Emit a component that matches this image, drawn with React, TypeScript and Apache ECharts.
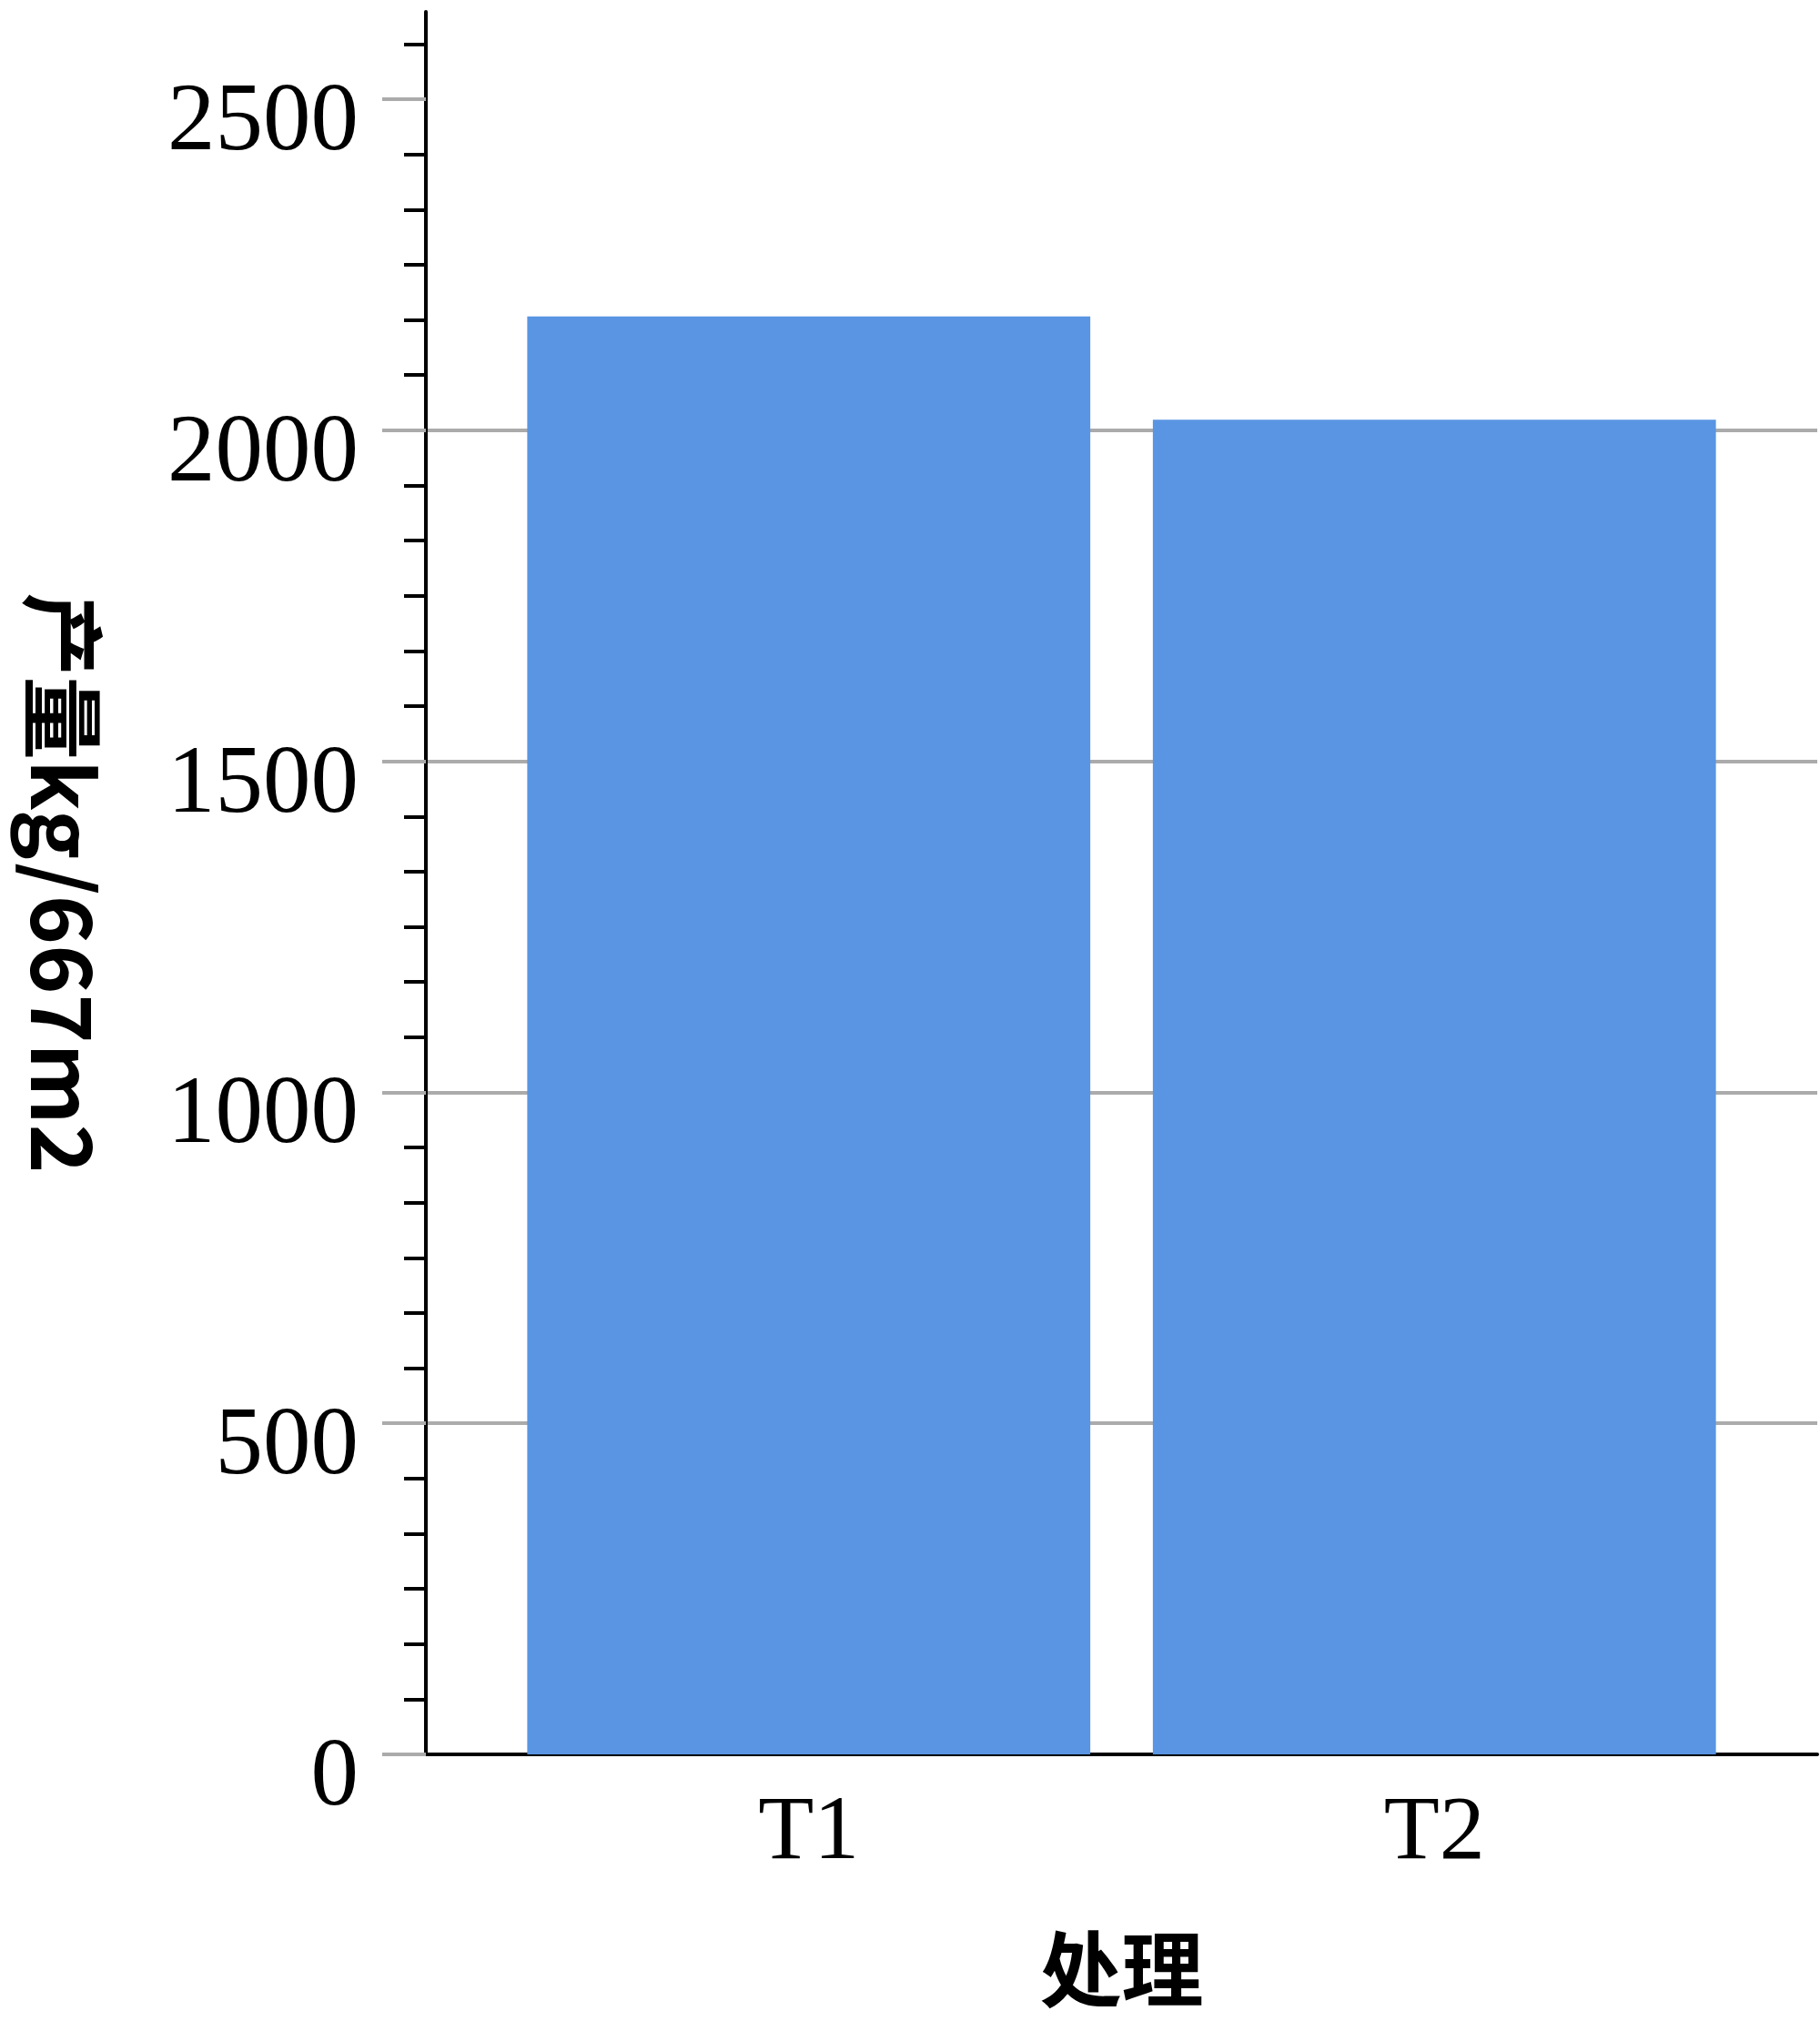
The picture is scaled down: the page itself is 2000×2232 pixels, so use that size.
import React, { useEffect, useRef } from "react";
import * as echarts from "echarts";

const categories = ["T1", "T2"];
const yieldValues = [2172, 2016];
const yMin = 0;
const yMax = 2632;
const majorStep = 500;
const minorPerMajor = 6;
const majorTickValues = [0, 500, 1000, 1500, 2000, 2500];
const yAxisTitle = "产量kg/667m2";
const xAxisTitle = "处理";

const minorTickValues: number[] = [];
for (let i = 0; (i * majorStep) / minorPerMajor <= yMax; i++) {
  if (i % minorPerMajor !== 0) minorTickValues.push((i * majorStep) / minorPerMajor);
}

const serif = "'Liberation Serif', 'Times New Roman', serif";
const cjk = "'Noto Sans CJK SC', sans-serif";
const grey = "#ababab";

export default function App() {
  const ref = useRef<HTMLDivElement>(null);
  useEffect(() => {
    if (!ref.current) return;
    const chart = echarts.init(ref.current, undefined, { renderer: "svg" });
    chart.setOption({
      animation: false,
      backgroundColor: "#ffffff",
      grid: [
        { left: 468, top: 13, width: 1529, bottom: 304 },
        { left: 545, top: 13, width: 1375, bottom: 304 },
      ],
      xAxis: [
        {
          gridIndex: 0,
          type: "value",
          min: 0,
          max: 1,
          axisLine: { show: true, lineStyle: { color: "#000", width: 4 } },
          axisTick: { show: false },
          axisLabel: { show: false },
          splitLine: { show: false },
        },
        {
          gridIndex: 1,
          type: "category",
          data: categories,
          axisLine: { show: false },
          axisTick: { show: false },
          axisLabel: {
            fontSize: 100,
            fontFamily: serif,
            color: "#000",
            margin: 30,
          },
          name: xAxisTitle,
          nameLocation: "middle",
          nameGap: 186,
          nameTextStyle: {
            fontSize: 90,
            lineHeight: 90,
            fontWeight: "bold",
            fontFamily: cjk,
            color: "#000",
          },
        },
      ],
      yAxis: [
        {
          gridIndex: 0,
          type: "value",
          position: "left",
          min: yMin,
          max: yMax,
          interval: majorStep,
          axisLine: { show: true, lineStyle: { color: "#000", width: 4 } },
          axisTick: {
            show: true,
            customValues: majorTickValues,
            length: 48,
            lineStyle: { color: grey, width: 4 },
          },
          axisLabel: {
            customValues: majorTickValues,
            formatter: (v: number) => String(v),
            fontSize: 105,
            fontFamily: serif,
            color: "#000",
            margin: 74,
            verticalAlign: "top",
            lineHeight: 39,
          },
          splitLine: { show: true, showMaxLine: false, lineStyle: { color: grey, width: 4 } },
          name: yAxisTitle,
          nameLocation: "middle",
          nameRotate: -90,
          nameGap: 347,
          nameTextStyle: { fontSize: 92, fontWeight: "bold", fontFamily: cjk, color: "#000" },
        },
        {
          gridIndex: 0,
          type: "value",
          position: "left",
          offset: 0,
          min: yMin,
          max: yMax,
          interval: majorStep,
          axisLine: { show: false },
          axisLabel: { show: false },
          splitLine: { show: false },
          axisTick: {
            show: true,
            customValues: minorTickValues,
            length: 24,
            lineStyle: { color: "#000", width: 4 },
          },
        },
        {
          gridIndex: 1,
          type: "value",
          min: yMin,
          max: yMax,
          show: false,
        },
      ],
      series: [
        {
          type: "bar",
          xAxisIndex: 1,
          yAxisIndex: 2,
          data: yieldValues,
          barWidth: "90%",
          itemStyle: { color: "#5995E2" },
        },
      ],
    });
    return () => chart.dispose();
  }, []);
  return (
    <div
      ref={ref}
      style={{ position: "absolute", left: 0, top: 0, width: 2000, height: 2232 }}
    />
  );
}
